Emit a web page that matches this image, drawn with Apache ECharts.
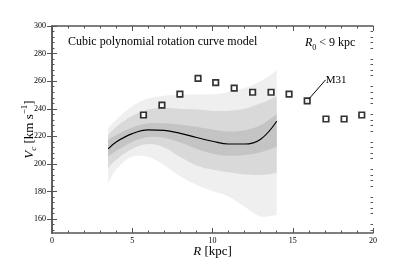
<!DOCTYPE html>
<html><head><meta charset="utf-8">
<script src="https://cdn.jsdelivr.net/npm/echarts@6/dist/echarts.min.js"></script>
<style>html,body{margin:0;padding:0;background:#fff}#c{width:415px;height:260px}</style>
</head><body><div id="c"></div>
<script>
// Model grid radii (kpc)
const R = [3.5, 4, 5, 6, 7, 8, 9, 10, 11, 12, 13, 14];
// Best-fit cubic rotation curve (km/s)
const curveV = [211, 216, 222, 224.7, 224.4, 222.2, 219.2, 216.5, 214.5, 214.5, 218, 231];
// Confidence bands (lower / upper)
const lightLo = [186, 196, 205.5, 205, 199, 191, 185, 180.5, 176.5, 169, 162, 163];
const lightHi = [226, 232, 242, 247.5, 249.5, 250, 250.5, 250.5, 252, 255, 260, 268];
const medLo = [197, 203, 211, 214.5, 212, 205, 199, 196, 194, 192.5, 192, 193.5];
const medHi = [221, 227, 235, 239.5, 240.5, 240, 239.5, 238.5, 238.5, 240, 244, 249];
const darkLo = [205.5, 209.5, 216, 219.5, 219, 215.5, 211, 207.5, 206, 206.5, 208.5, 212.5];
const darkHi = [217.5, 221, 226.5, 229.5, 229.5, 228.5, 227, 225, 223.5, 224.5, 228, 236];
// Observed points
const obsR = [5.7, 6.85, 7.97, 9.1, 10.2, 11.35, 12.5, 13.65, 14.77, 15.9, 17.07, 18.2, 19.3];
const obsV = [235.5, 242.7, 250.7, 262, 259, 255, 252, 252, 250.7, 245.7, 232.6, 232.6, 235.5];
// Annotation
const m31Index = 9;
const m31LabelAt = [17.05, 261];
const yTickLabels = [160, 180, 200, 220, 240, 260, 280, 300];
const xTickLabels = [0, 5, 10, 15, 20];

const yMinor = [];
for (let v = 152; v <= 300; v += 4) if (v % 20 !== 0) yMinor.push(v);

const serif = 'Liberation Serif';
const axisColor = '#555';

function band(lo, hi, color) {
  return {
    type: 'custom', silent: true, clip: true, z: 2,
    data: [[R[0], lo[0]]],
    renderItem: function (params, api) {
      const up = R.map((r, i) => api.coord([r, hi[i]]));
      const dn = R.map((r, i) => api.coord([r, lo[i]])).reverse();
      // duplicate end points so the vertical ends stay straight
      const pts = [up[0]].concat(up, [up[up.length - 1]], [dn[0]], dn, [dn[dn.length - 1]]);
      return { type: 'polygon', shape: { points: pts, smooth: 0.35, smoothConstraint: false },
        style: { fill: color, stroke: null } };
    }
  };
}

const baseX = { type: 'value', min: 0, max: 20, interval: 5 };
const baseY = { type: 'value', min: 150, max: 300 };

const chart = echarts.init(document.getElementById('c'), null, { renderer: 'canvas' });
chart.setOption({
  animation: false,
  backgroundColor: '#fff',
  title: [
    { text: 'Cubic polynomial rotation curve model', left: 63, top: 31, padding: 5,
      textStyle: { fontFamily: serif, fontSize: 12, fontWeight: 'normal', color: '#000' } },
    { text: '{i|R}{s|0}{n| < 9 kpc}', left: 300, top: 29, padding: 5,
      textStyle: { fontFamily: serif, fontSize: 12, fontWeight: 'normal', color: '#000',
        rich: {
          i: { fontFamily: serif, fontStyle: 'italic', fontSize: 12, lineHeight: 18, verticalAlign: 'middle' },
          s: { fontFamily: serif, fontSize: 8, lineHeight: 10, verticalAlign: 'bottom' },
          n: { fontFamily: serif, fontSize: 12, lineHeight: 18, verticalAlign: 'middle' }
        } } }
  ],
  grid: { left: 52, right: 42, top: 26, bottom: 27, containLabel: false, outerBoundsMode: 'none' },
  xAxis: [
    Object.assign({}, baseX, {
      position: 'bottom',
      name: '{i|R} [kpc]', nameLocation: 'middle', nameGap: 12, nameMoveOverlap: false,
      nameTextStyle: { fontFamily: serif, fontSize: 13, color: '#000',
        rich: { i: { fontFamily: serif, fontStyle: 'italic', fontSize: 13 } } },
      axisLine: { lineStyle: { color: axisColor, width: 1.5 } },
      axisTick: { inside: true, length: 5, lineStyle: { color: axisColor } },
      minorTick: { show: true, splitNumber: 5, length: 2.5, lineStyle: { color: axisColor } },
      axisLabel: { fontFamily: serif, fontSize: 8, color: '#000', margin: 4,
        customValues: xTickLabels },
      splitLine: { show: false }
    }),
    Object.assign({}, baseX, {
      position: 'top', offset: 0,
      axisLine: { lineStyle: { color: axisColor, width: 1.5 } },
      axisTick: { inside: true, length: 5, lineStyle: { color: axisColor } },
      minorTick: { show: true, splitNumber: 5, length: 2.5, lineStyle: { color: axisColor } },
      axisLabel: { show: false },
      splitLine: { show: false }
    })
  ],
  yAxis: [
    Object.assign({}, baseY, {
      position: 'left', offset: 0,
      name: '{i|V}{s|c}{n| [km s}{p|\u22121}{n|]}', nameLocation: 'middle', nameGap: 13.5, nameMoveOverlap: false,
      nameTextStyle: { fontFamily: serif, fontSize: 13, color: '#000',
        rich: {
          i: { fontFamily: serif, fontStyle: 'italic', fontSize: 13, lineHeight: 18, verticalAlign: 'middle' },
          s: { fontFamily: serif, fontStyle: 'italic', fontSize: 9, lineHeight: 10, verticalAlign: 'bottom' },
          n: { fontFamily: serif, fontSize: 13, lineHeight: 18, verticalAlign: 'middle' },
          p: { fontFamily: serif, fontSize: 9, lineHeight: 10, verticalAlign: 'top' }
        } },
      axisLine: { lineStyle: { color: axisColor, width: 1.5 } },
      axisTick: { inside: true, length: 5, lineStyle: { color: axisColor }, customValues: yTickLabels },
      axisLabel: { fontFamily: serif, fontSize: 8, color: '#000', margin: 6, customValues: yTickLabels },
      splitLine: { show: false }
    }),
    Object.assign({}, baseY, {
      position: 'right', offset: 0,
      axisLine: { lineStyle: { color: axisColor, width: 1.5 } },
      axisTick: { inside: true, length: 5, lineStyle: { color: axisColor }, customValues: yTickLabels },
      axisLabel: { show: false },
      splitLine: { show: false }
    }),
    Object.assign({}, baseY, {
      position: 'left', offset: 0,
      axisLine: { show: false },
      axisTick: { show: true, inside: true, length: 2.5, lineStyle: { color: axisColor }, customValues: yMinor },
      axisLabel: { show: false },
      splitLine: { show: false }
    }),
    Object.assign({}, baseY, {
      position: 'right', offset: 0,
      axisLine: { show: false },
      axisTick: { show: true, inside: true, length: 2.5, lineStyle: { color: axisColor }, customValues: yMinor },
      axisLabel: { show: false },
      splitLine: { show: false }
    })
  ],
  series: [
    band(lightLo, lightHi, '#efefef'),
    band(medLo, medHi, '#d9d9d9'),
    band(darkLo, darkHi, '#c4c4c4'),
    { type: 'line', data: R.map((r, i) => [r, curveV[i]]), symbol: 'none', smooth: 0.4,
      lineStyle: { color: '#000', width: 1.2 }, z: 3 },
    { type: 'scatter', data: obsR.map((r, i) => [r, obsV[i]]), symbol: 'rect', symbolSize: 5.5,
      itemStyle: { color: '#fff', borderColor: '#000', borderWidth: 1.7 }, z: 5,
      markLine: { silent: true, symbol: 'none', label: { show: false },
        lineStyle: { color: '#000', width: 1, type: 'solid' },
        data: [[{ coord: [obsR[m31Index], obsV[m31Index]] }, { coord: m31LabelAt }]] },
      markPoint: { silent: true, symbol: 'circle', symbolSize: 0,
        data: [{ coord: m31LabelAt, label: { show: true, formatter: 'M31', position: 'right', distance: 0,
          fontFamily: serif, fontSize: 11, color: '#000' } }] } }
  ]
});
</script></body></html>
